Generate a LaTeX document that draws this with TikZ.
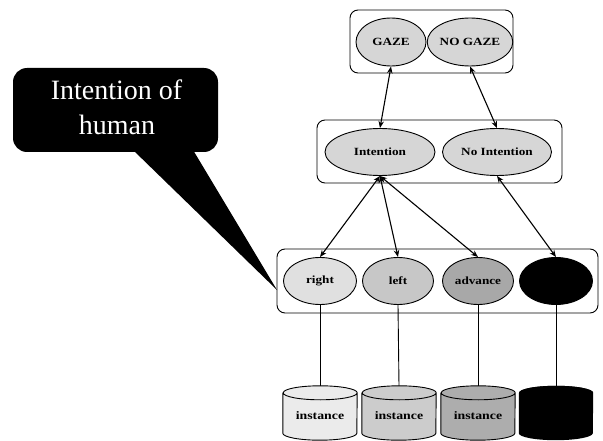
\documentclass[tikz,border=0pt]{standalone}
\usepackage{fontspec}
\setmainfont{Liberation Serif}
\newfontfamily\lblfont[FakeStretch=1.2]{Liberation Serif}
\newfontfamily\calloutfont{Liberation Serif}
\usetikzlibrary{arrows.meta, shapes.geometric}
\definecolor{topfill}{gray}{0.84}
\definecolor{rightfill}{gray}{0.88}
\definecolor{leftfill}{gray}{0.78}
\definecolor{advfill}{gray}{0.66}
\definecolor{cylA}{gray}{0.92}
\definecolor{cylB}{gray}{0.80}
\definecolor{cylC}{gray}{0.68}
\tikzset{
  group/.style={draw, line width=0.9pt, rounded corners=8pt, inner sep=0pt},
  state/.style={draw, ellipse, line width=0.9pt, inner sep=0pt,
    minimum width=72pt, minimum height=47pt, font=\lblfont\bfseries\fontsize{11}{13}\selectfont},
  link/.style={line width=1.1pt, {Stealth[length=7pt,width=5.5pt]}-{Stealth[length=7pt,width=5.5pt]}},
  feed/.style={line width=0.9pt},
  dbanchor/.style={inner sep=0pt, minimum width=74pt, minimum height=54pt},
  calltextstyle/.style={text=white, inner sep=0pt, anchor=base,
    font=\calloutfont\fontsize{28}{33}\selectfont}
}
% cylinder drawn around a named anchor node: #1 node, #2 fill, #3 label
\newcommand{\dbdraw}[3]{%
  \fill[#2] ([yshift=-7pt]#1.north west) -- ([yshift=7pt]#1.south west)
    arc[start angle=180, end angle=360, x radius=37pt, y radius=7pt]
    -- ([yshift=-7pt]#1.north east)
    arc[start angle=0, end angle=180, x radius=37pt, y radius=7pt] -- cycle;
  \draw[line width=0.9pt] ([yshift=-7pt]#1.north west) -- ([yshift=7pt]#1.south west)
    arc[start angle=180, end angle=360, x radius=37pt, y radius=7pt]
    -- ([yshift=-7pt]#1.north east)
    arc[start angle=0, end angle=360, x radius=37pt, y radius=7pt];
  \node[font=\lblfont\bfseries\fontsize{11.5}{13}\selectfont] at ([yshift=-3pt]#1.center) {#3};%
}
\begin{document}
\begin{tikzpicture}[x=1pt, y=-1pt]
\useasboundingbox (0,0) rectangle (603,441);

% grouping boxes
\node[group, minimum width=163pt, minimum height=63pt] (gazebox) at (431.5,41.5) {};
\node[group, minimum width=245pt, minimum height=63pt] (intbox) at (439.5,151.5) {};
\node[group, minimum width=321pt, minimum height=64pt] (actbox) at (437.5,281) {};

% gaze layer
\node[state, fill=topfill, minimum width=70pt, minimum height=48pt] (gaze) at (391,42) {GAZE};
\node[state, fill=topfill, minimum width=70pt, minimum height=48pt] (nogaze) at (470,42) {NO GAZE};

% intention layer
\node[state, fill=topfill, minimum width=110pt] (intent) at (380,152) {Intention};
\node[state, fill=topfill, minimum width=109pt] (nointent) at (497,152) {No Intention};

% action layer
\node[state, fill=rightfill, minimum width=73pt] (right) at (320,281) {right};
\node[state, fill=leftfill, minimum width=71pt] (left) at (398,281) {left};
\node[state, fill=advfill, minimum width=71pt] (advance) at (478,281) {advance};
\node[state, fill=black, minimum width=73pt] (other) at (556,281) {};

% instance stores
\node[dbanchor] (dbA) at (320,413) {};
\node[dbanchor] (dbB) at (399,413) {};
\node[dbanchor] (dbC) at (478,413) {};
\node[dbanchor] (dbD) at (556,413) {};

\draw[feed] (right.south) -- (dbA.north);
\draw[feed] (left.south) -- (dbB.north);
\draw[feed] (advance.south) -- (dbC.north);
\draw[feed] (other.south) -- (dbD.north);

\dbdraw{dbA}{cylA}{instance}
\dbdraw{dbB}{cylB}{instance}
\dbdraw{dbC}{cylC}{instance}
\fill[black] ([yshift=-7pt]dbD.north west) -- ([yshift=7pt]dbD.south west)
    arc[start angle=180, end angle=360, x radius=37pt, y radius=7pt]
    -- ([yshift=-7pt]dbD.north east)
    arc[start angle=0, end angle=180, x radius=37pt, y radius=7pt] -- cycle;
\fill[black] ([yshift=-7pt]dbD.north) ellipse[x radius=37pt, y radius=7pt];

% links between layers
\draw[link] (gaze.south) -- (intent.north);
\draw[link] (nogaze.south) -- (nointent.north);
\draw[link] (intent.south) -- (right.north);
\draw[link] (intent.south) -- (left.north);
\draw[link] (intent.south) -- (advance.north);
\draw[link] (nointent.south) -- (other.north);

% callout
\coordinate (tip) at (277,290);
\fill[black] (133,150) -- (tip) -- (193,150) -- cycle;
\node[fill=black, rounded corners=14pt, minimum width=205pt, minimum height=84pt,
      inner sep=0pt] (callout) at (115.5,110) {};
\node[calltextstyle] (callA) at (116.5,100) {Intention of};
\node[calltextstyle] (callB) at (117,135) {human};
\end{tikzpicture}
\end{document}
